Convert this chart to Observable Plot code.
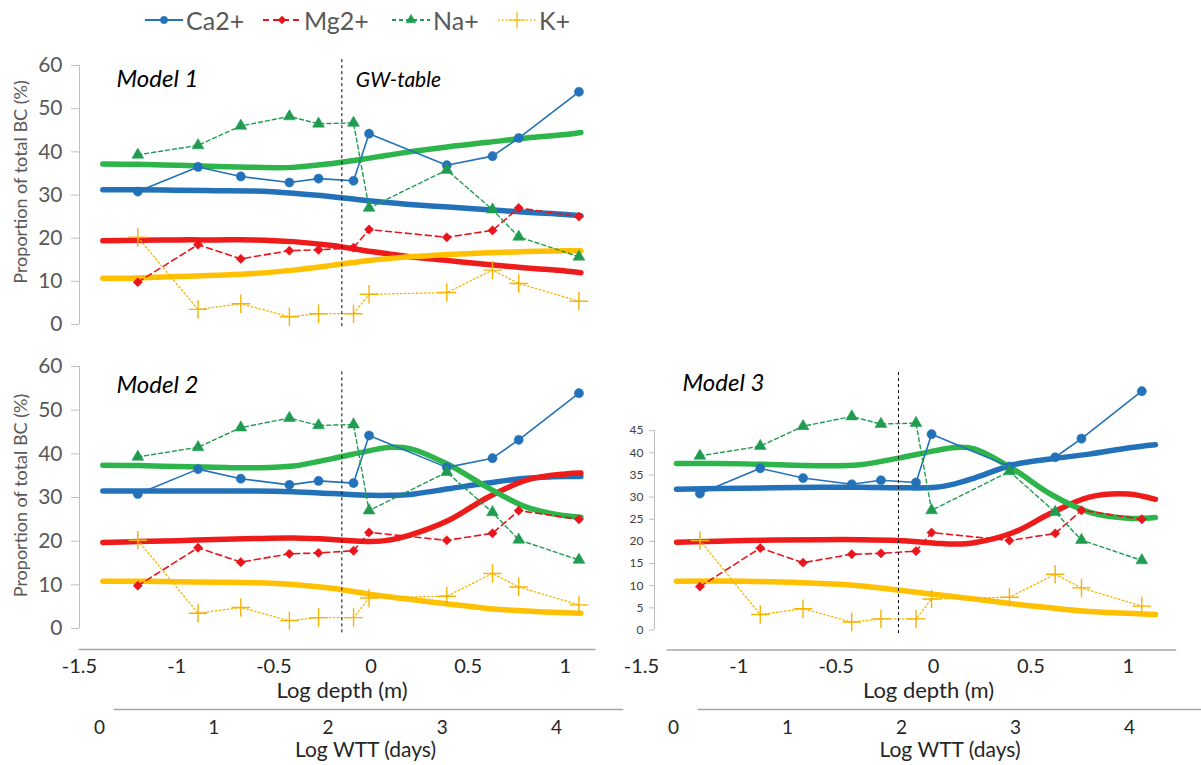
<!DOCTYPE html>
<html><head><meta charset="utf-8">
<script src="https://cdn.jsdelivr.net/npm/d3@7"></script>
<script src="https://cdn.jsdelivr.net/npm/@observablehq/plot@0.6"></script>
<style>
body{margin:0;background:#fff;}
#fig{position:relative;width:1201px;height:765px;font-family:Lato,"Open Sans",sans-serif;overflow:hidden;background:#fff;}
#fig > svg{position:absolute;}
#fig .item{position:absolute;top:8px;display:flex;align-items:center;font-size:25px;color:#595959;line-height:24px;white-space:nowrap;}
#fig .item svg{position:static;display:block;}
</style></head><body><div id="fig"></div>
<script>
// ---------- data ----------
const series = ["Ca2+", "Mg2+", "Na+", "K+"];
const obsDepth = [-1.20, -0.89, -0.67, -0.42, -0.27, -0.09, -0.01, 0.39, 0.625, 0.76, 1.07];
const obsCa = [30.8, 36.5, 34.3, 32.9, 33.8, 33.3, 44.2, 36.9, 39.0, 43.2, 53.9];
const obsMg = [9.8, 18.5, 15.2, 17.1, 17.3, 17.8, 22.0, 20.2, 21.8, 27.0, 25.0];
const obsNa = [39.3, 41.5, 46.0, 48.2, 46.5, 46.7, 27.0, 35.8, 26.6, 20.3, 15.7];
const obsK  = [20.2, 3.5, 4.8, 1.8, 2.5, 2.5, 7.0, 7.4, 12.6, 9.5, 5.4];

const modelDepth12 = [-1.38, -1.2, -1.0, -0.8, -0.6, -0.4, -0.2, 0, 0.1, 0.2, 0.4, 0.6, 0.8, 1.0, 1.08];
const m1Ca = [31.2, 31.2, 31.1, 31.0, 30.9, 30.4, 29.6, 28.6, 28.2, 27.8, 27.2, 26.6, 26.0, 25.5, 25.2];
const m1Mg = [19.4, 19.5, 19.6, 19.6, 19.6, 19.2, 18.3, 16.9, 16.3, 15.7, 14.8, 13.9, 13.1, 12.4, 12.0];
const m1Na = [37.2, 37.1, 36.9, 36.6, 36.4, 36.4, 37.3, 38.6, 39.3, 40.0, 41.2, 42.2, 43.2, 44.0, 44.5];
const m1K  = [10.7, 10.8, 11.1, 11.4, 11.8, 12.6, 13.7, 14.9, 15.3, 15.7, 16.2, 16.6, 16.9, 17.1, 17.1];

const m2Ca = [31.5, 31.5, 31.5, 31.5, 31.5, 31.3, 30.9, 30.5, 30.5, 30.7, 32.0, 33.3, 34.4, 34.8, 34.8];
const m2Mg = [19.7, 19.9, 20.1, 20.4, 20.6, 20.7, 20.4, 19.9, 20.3, 21.4, 24.8, 30.0, 34.0, 35.4, 35.6];
const m2Na = [37.4, 37.3, 37.1, 36.9, 36.8, 37.2, 38.9, 40.8, 41.5, 41.2, 37.5, 32.3, 27.8, 25.8, 25.5];
const m2K  = [10.8, 10.8, 10.7, 10.6, 10.5, 10.1, 9.2, 7.8, 7.2, 6.7, 5.6, 4.6, 4.0, 3.6, 3.5];

const modelDepth3 = [-1.32, -0.97, -0.58, -0.38, -0.18, 0.01, 0.11, 0.21, 0.41, 0.60, 0.80, 1.00, 1.14];
const m3Ca = [31.8, 32.0, 32.2, 32.2, 32.1, 32.2, 33.0, 34.3, 37.3, 38.6, 39.7, 41.1, 41.8];
const m3Mg = [19.8, 20.2, 20.4, 20.4, 20.2, 19.6, 19.4, 19.7, 22.0, 26.3, 30.0, 30.7, 29.5];
const m3Na = [37.6, 37.5, 37.1, 37.3, 38.8, 40.5, 41.2, 40.9, 36.3, 30.7, 26.6, 25.2, 25.4];
const m3K  = [11.0, 11.0, 10.5, 10.0, 9.0, 8.0, 7.5, 7.0, 5.9, 5.0, 4.2, 3.8, 3.5];

const gwDepth = [-0.15, -0.15, -0.18];
const depthTicks = [-1.5, -1, -0.5, 0, 0.5, 1];
const wttTicks = [0, 1, 2, 3, 4];
const yTicks12 = [0, 10, 20, 30, 40, 50, 60];
const yTicks3 = [0, 5, 10, 15, 20, 25, 30, 35, 40, 45];
const modelNames = ["Model 1", "Model 2", "Model 3"];
const yTitle = "Proportion of total BC (%)";
const xTitle = "Log depth (m)";
const wttTitle = "Log WTT (days)";
const gwLabel = "GW-table";

// ---------- styles ----------
const styles = {
  "Ca2+": {color: "#2372b9", thick: "#2372b9", dash: null, width: 1.6, symbol: "circle", d3sym: d3.symbolCircle, r: 4.6},
  "Mg2+": {color: "#e9141c", thick: "#ee1b1b", dash: "6,4", width: 1.6, symbol: "diamond2", d3sym: d3.symbolDiamond2, r: 4.2},
  "Na+":  {color: "#1f9c50", thick: "#2db44b", dash: "4,3", width: 1.4, symbol: "triangle", d3sym: d3.symbolTriangle, r: 4.4},
  "K+":   {color: "#f4b400", thick: "#ffc000", dash: "1.5,2.5", width: 1.3, symbol: "plus", d3sym: d3.symbolPlus, r: 6}
};
const obsValues = [obsCa, obsMg, obsNa, obsK];
const fig = document.getElementById("fig");
const FONT = "Lato, 'Open Sans', sans-serif";

function place(el, left, top) {
  el.style.left = left + "px";
  el.style.top = top + "px";
  fig.appendChild(el);
}

function panel(o) {
  const obsRows = series.flatMap((s, i) => obsDepth.map((d, j) => ({ion: s, depth: d, value: obsValues[i][j]})));
  const modelRows = series.flatMap((s, i) => o.modelDepth.map((d, j) => ({ion: s, depth: d, value: o.model[i][j]})));
  const marks = [];
  // y axis line + ticks
  marks.push(Plot.ruleX([o.xDomain[0]], {y1: 0, y2: o.yTicks[o.yTicks.length - 1], stroke: "#bfbfbf", strokeWidth: 1, dx: o.axisDx}));
  marks.push(Plot.axisY({ticks: o.yTicks, tickSize: o.tickSize, tickPadding: o.tickPadding, fontSize: o.yFont, fill: o.yFill, stroke: "#bfbfbf", dx: o.axisDx, label: null}));
  if (o.yLabel) marks.push(Plot.text([yTitle], {frameAnchor: "left", rotate: -90, dx: -58, dy: o.yLabelDy,
    textAnchor: "middle", lineAnchor: "middle", fontSize: 18, fill: "#595959"}));
  // model curves
  for (const s of series) {
    marks.push(Plot.line(modelRows.filter(r => r.ion === s), {x: "depth", y: "value", stroke: styles[s].thick, strokeWidth: 5.5, curve: "catmull-rom", strokeLinecap: "round"}));
  }
  // observations
  for (const s of series) {
    const st = styles[s];
    const rows = obsRows.filter(r => r.ion === s);
    marks.push(Plot.line(rows, {x: "depth", y: "value", stroke: st.color, strokeWidth: st.width, strokeDasharray: st.dash}));
    marks.push(Plot.dot(rows, {x: "depth", y: "value", symbol: st.symbol, r: st.r,
      fill: s === "K+" ? "none" : st.color, stroke: st.color, strokeWidth: s === "K+" ? 1.4 : 0.5}));
  }
  // groundwater table
  marks.push(Plot.ruleX([o.gw], {y1: o.gwY[0], y2: o.gwY[1], stroke: "#000", strokeWidth: 1, strokeDasharray: "3,3"}));
  marks.push(Plot.text([o.name], {frameAnchor: "top-left", dx: o.nameDx, dy: o.nameDy, textAnchor: "start", lineAnchor: "middle",
    fontSize: 24, fontStyle: "italic", fill: "#000"}));
  if (o.gwText) marks.push(Plot.text([gwLabel], {x: o.gw, frameAnchor: "top", dx: 14, dy: 15, textAnchor: "start", lineAnchor: "middle",
    fontSize: 21, fontStyle: "italic", fill: "#000"}));
  if (o.xAxis) {
    marks.push(Plot.frame({anchor: "bottom", stroke: "#a6a6a6", strokeWidth: 1.5, insetLeft: o.frameInsetLeft || 0}));
    marks.push(Plot.axisX({ticks: depthTicks, tickSize: 0, tickPadding: 9, tickFormat: d => String(d), fontSize: 20, fill: "#262626", label: null}));
    marks.push(Plot.text([xTitle], {frameAnchor: "bottom", dy: 41, dx: o.xTitleDx, lineAnchor: "middle", textAnchor: "middle", fontSize: 22, fill: "#262626"}));
  }
  return Plot.plot({
    width: o.width, height: o.height,
    marginLeft: o.ml, marginRight: o.mr, marginTop: o.mt, marginBottom: o.mb,
    x: {domain: o.xDomain, axis: null},
    y: {domain: [0, 60], insetBottom: o.insetBottom, axis: null},
    style: {background: "none", fontFamily: FONT, overflow: "visible"},
    marks
  });
}

function wttAxis(o) {
  return Plot.plot({
    width: o.width, height: 65,
    marginTop: 0, marginBottom: 56, marginLeft: o.ml, marginRight: o.mr,
    x: {domain: o.domain, axis: null},
    style: {background: "none", fontFamily: FONT, overflow: "visible"},
    marks: [
      Plot.frame({anchor: "bottom", stroke: "#a6a6a6", strokeWidth: 1.5}),
      Plot.text(wttTicks, {x: d => d, text: d => String(d), frameAnchor: "bottom", dy: 18, lineAnchor: "middle", fontSize: 19, fill: "#262626"}),
      Plot.text([wttTitle], {frameAnchor: "bottom", dy: 40.5, dx: o.titleDx, lineAnchor: "middle", textAnchor: "middle", fontSize: 21, fill: "#262626"})
    ]
  });
}

const common12 = {width: 600, ml: 79, mr: 6, xDomain: [-1.5, 1.15], axisDx: 0, tickSize: 8, tickPadding: 9,
  yFont: 21, yFill: "#595959", yTicks: yTicks12, yLabel: true, modelDepth: modelDepth12, nameDx: 37};

place(panel({...common12, height: 340, mt: 65, mb: 16, insetBottom: 0, yLabelDy: -13,
  model: [m1Ca, m1Mg, m1Na, m1K], gw: gwDepth[0], gwY: [-0.5, 61.5], name: modelNames[0], nameDy: 14,
  gwText: true, xAxis: false}), 0, 0);

place(panel({...common12, height: 425, mt: 26, mb: 116, insetBottom: 21, yLabelDy: -12.5,
  model: [m2Ca, m2Mg, m2Na, m2K], gw: gwDepth[1], gwY: [-1, 59.3], name: modelNames[1], nameDy: 19,
  gwText: false, xAxis: true, xTitleDx: 5}), 0, 340);

place(panel({width: 601, height: 425, ml: 41, mr: 26, mt: 23.7, mb: 115.5, insetBottom: 20,
  xDomain: [-1.5, 1.243], axisDx: 13, tickSize: 5, tickPadding: 6, yFont: 12, yFill: "#404040",
  yTicks: yTicks3, yLabel: false, modelDepth: modelDepth3, model: [m3Ca, m3Mg, m3Na, m3K],
  gw: gwDepth[2], gwY: [-0.8, 58.8], name: modelNames[2], nameDx: 41, nameDy: 19,
  gwText: false, xAxis: true, xTitleDx: 20, frameInsetLeft: 26}), 600, 340);

place(wttAxis({width: 625, ml: 114, mr: 3, domain: [0.131, 4.578], titleDx: -3}), 0, 700);
place(wttAxis({width: 601, ml: 98, mr: 0, domain: [0.219, 4.632], titleDx: 0}), 600, 700);

// ---------- legend ----------
const legendLeft = [144, 262, 391, 497];
series.forEach((s, i) => {
  const st = styles[s];
  const item = d3.select(fig).append("div").attr("class", "item").style("left", legendLeft[i] + "px");
  const svg = item.append("svg").attr("width", 40).attr("height", 24);
  svg.append("line").attr("x1", 1).attr("x2", 39).attr("y1", 12).attr("y2", 12)
    .attr("stroke", st.color).attr("stroke-width", st.width + 0.4).attr("stroke-dasharray", st.dash);
  svg.append("path").attr("transform", "translate(20,12)")
    .attr("d", d3.symbol(st.d3sym, s === "K+" ? 90 : 42)())
    .attr("fill", s === "K+" ? "none" : st.color).attr("stroke", st.color).attr("stroke-width", s === "K+" ? 1.2 : 0.5);
  item.append("span").text(s).style("margin-left", "2px");
});
</script></body></html>
